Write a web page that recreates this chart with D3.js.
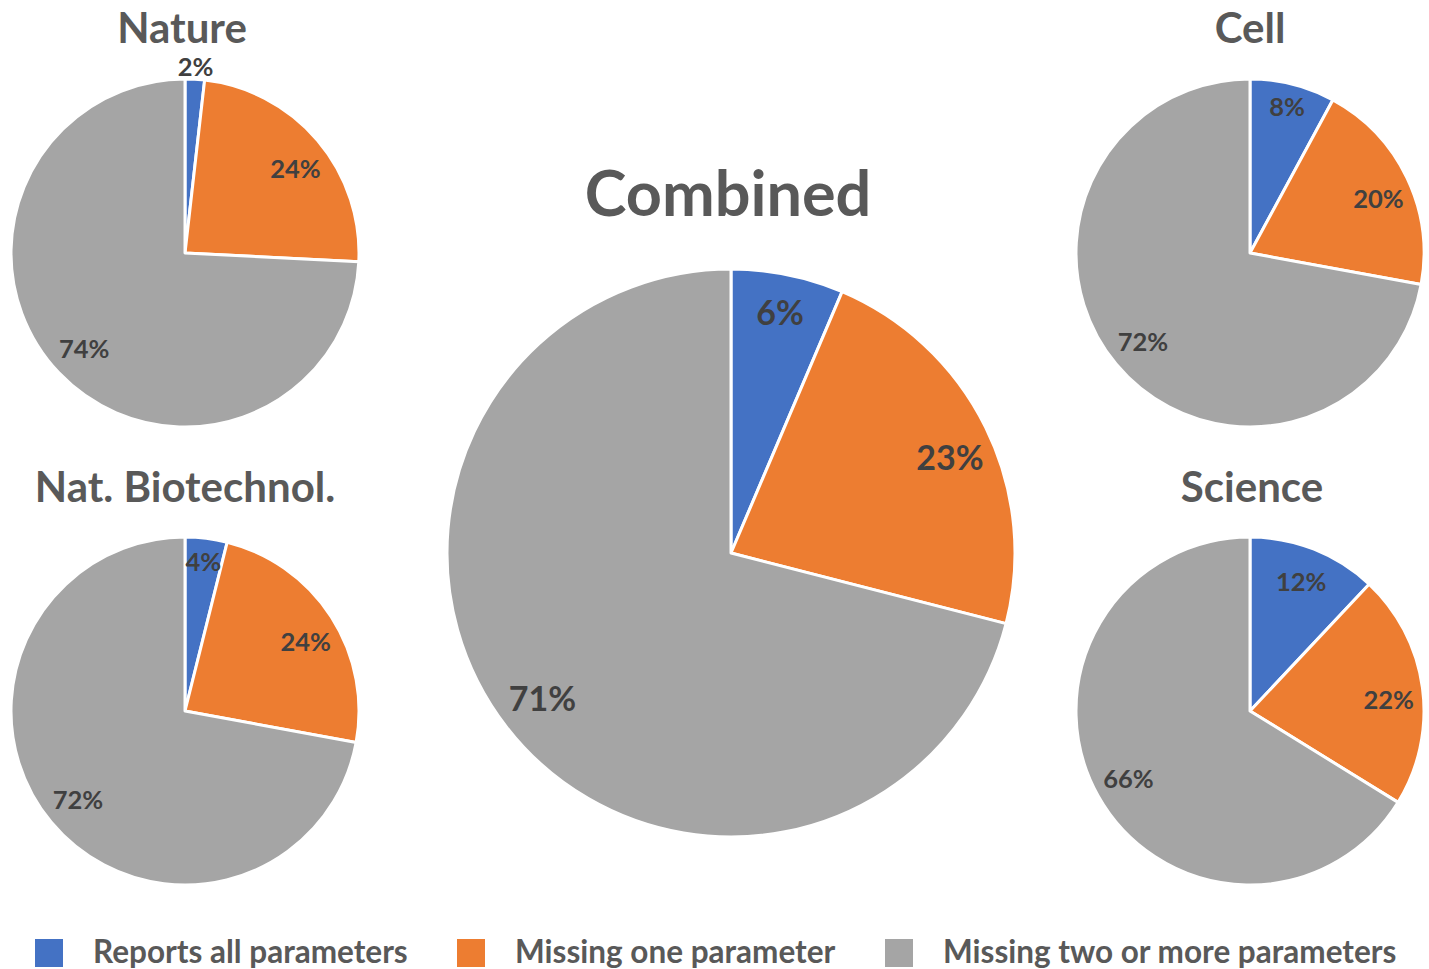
<!DOCTYPE html>
<html><head><meta charset="utf-8">
<script src="https://cdn.jsdelivr.net/npm/d3@7"></script>
<style>body{margin:0;background:#fff}svg text{font-family:Lato,"Open Sans",sans-serif;font-weight:bold}</style>
</head><body><svg id="c" width="1429" height="969"></svg>
<script>
const categories = ["Reports all parameters","Missing one parameter","Missing two or more parameters"];
const colors = ["#4472C4","#ED7D31","#A5A5A5"];
const journals = ["Nature","Nat. Biotechnol.","Combined","Cell","Science"];
const natureValues = [1.8, 24.0, 74.2];
const natBiotechValues = [3.9, 24.0, 72.1];
const combinedValues = [6.4, 22.6, 71.0];
const cellValues = [7.9, 20.0, 72.1];
const scienceValues = [12.0, 21.8, 66.2];

const svg = d3.select("#c");
const layout = [
  {name: journals[0], values: natureValues, cx:185, cy:253, r:174, ty:43, tx:182, fs:42, ls:25.5, lf:0.8},
  {name: journals[1], values: natBiotechValues, cx:185, cy:711, r:174, ty:502, tx:185, fs:42, ls:25.5, lf:0.8},
  {name: journals[2], values: combinedValues, cx:731, cy:553, r:284, ty:216, tx:728, fs:63, ls:34, lf:0.84},
  {name: journals[3], values: cellValues, cx:1250, cy:253, r:174, ty:43, tx:1250, fs:42, ls:25.5, lf:0.8},
  {name: journals[4], values: scienceValues, cx:1250, cy:711, r:174, ty:502, tx:1252, fs:42, ls:25.5, lf:0.8}
];
const pie = d3.pie().sort(null).value(d=>d);
const fmt = v => d3.format(".0f")(v) + "%";
layout.forEach(p => {
  const g = svg.append("g").attr("transform",`translate(${p.cx},${p.cy})`);
  const arc = d3.arc().innerRadius(0).outerRadius(p.r);
  const arcs = pie(p.values);
  g.selectAll("path").data(arcs).join("path")
    .attr("d", arc).attr("fill",(d,i)=>colors[i])
    .attr("stroke","#fff").attr("stroke-width", 3).attr("stroke-linejoin","round");
  g.selectAll("text.lbl").data(arcs).join("text").attr("class","lbl")
    .attr("transform", d => {
      const share = d.value/100;
      const rr = share < 0.03 ? p.r + 12 : (share < 0.1 ? p.r*0.865 : p.r*p.lf);
      const a = (d.startAngle + d.endAngle)/2 + (share > 0.5 ? 0 : (share > 0.15 ? 0.05 : 0));
      return `translate(${Math.sin(a)*rr},${-Math.cos(a)*rr})`;
    })
    .attr("text-anchor","middle").attr("dy","0.36em")
    .attr("fill","#404040").attr("font-size", p.ls)
    .text(d => fmt(d.value));
  svg.append("text").attr("x",p.tx).attr("y",p.ty).attr("text-anchor","middle")
    .attr("fill","#595959").attr("font-size",p.fs).text(p.name);
});
const legX = [35, 457, 885];
const leg = svg.append("g");
categories.forEach((c,i) => {
  leg.append("rect").attr("x",legX[i]).attr("y",939).attr("width",28).attr("height",28).attr("fill",colors[i]);
  leg.append("text").attr("x",legX[i]+58).attr("y",963).attr("fill","#595959").attr("font-size",31.5).text(c);
});
</script></body></html>
